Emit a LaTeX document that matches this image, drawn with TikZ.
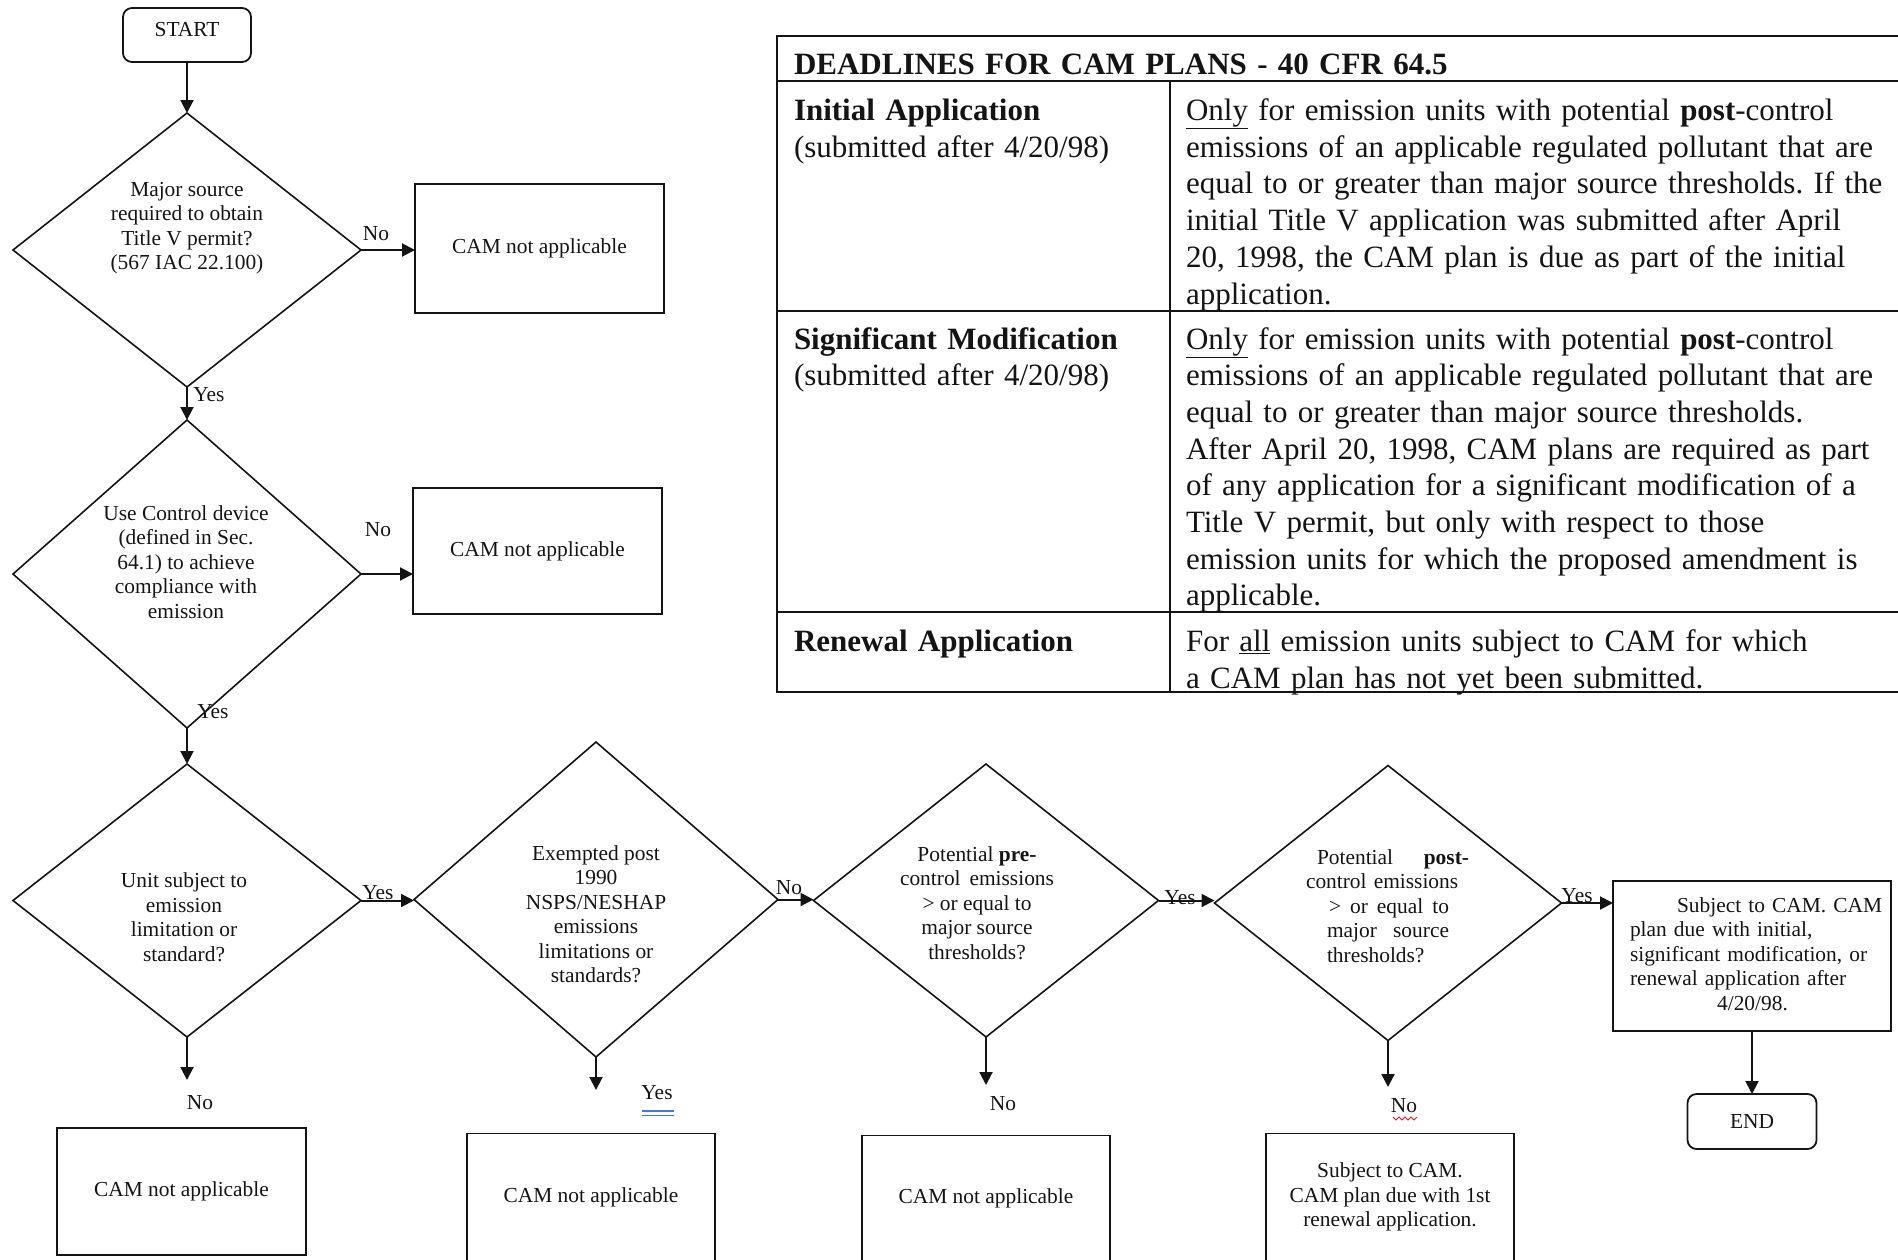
\documentclass[tikz,border=0pt]{standalone}
\usepackage{fontspec}
\setmainfont{Liberation Serif}
\usetikzlibrary{shapes.geometric,arrows.meta}
\newcommand\ffont{\fontsize{21.4pt}{24.5pt}\selectfont}
\newcommand\tfont{\fontsize{31pt}{36.7pt}\selectfont}
\definecolor{inkc}{RGB}{20,20,20}
\definecolor{gblue}{RGB}{66,120,230}
\definecolor{gred}{RGB}{220,30,30}
\frenchspacing
\begin{document}
\begin{tikzpicture}[x=1pt,y=-1pt,
  every node/.style={inner sep=0pt,outer sep=0pt,text=inkc},
  dia/.style={draw=inkc,diamond,line width=1.6pt},
  box/.style={draw=inkc,rectangle,line width=1.8pt,font=\ffont,align=center},
  rbox/.style={box,rounded corners=9pt},
  arr/.style={draw=inkc,line width=2pt,-{Triangle[length=13pt,width=13pt]}},
  lbl/.style={font=\ffont},
  ftxt/.style={font=\ffont,align=center},
  tcell/.style={font=\tfont,align=left,anchor=base west,text width=#1},
  tline/.style={draw=inkc,line width=1.8pt}]
\useasboundingbox (0,0) rectangle (1898,1259);

% ---------- table ----------
\draw[tline] (777,36) -- (1898,36);
\draw[tline] (777,81) -- (1898,81);
\draw[tline] (777,311) -- (1898,311);
\draw[tline] (777,612) -- (1898,612);
\draw[tline] (777,692) -- (1898,692);
\draw[tline] (777,35) -- (777,693);
\draw[tline] (1170,81) -- (1170,692);

\node[tcell=1000pt] (th) at (794,74) {\textbf{DEADLINES FOR CAM PLANS - 40 CFR 64.5}};
\node[tcell=370pt] (t1l) at (794,120.5) {\textbf{Initial Application}\\(submitted after 4/20/98)};
\node[tcell=720pt] (t1r) at (1186,120.5) {\underline{Only} for emission units with potential \textbf{post}-control\\
emissions of an applicable regulated pollutant that are\\
equal to or greater than major source thresholds. If the\\
initial Title V application was submitted after April\\
20, 1998, the CAM plan is due as part of the initial\\
application.};
\node[tcell=370pt] (t2l) at (794,349) {\textbf{Significant Modification}\\(submitted after 4/20/98)};
\node[tcell=720pt] (t2r) at (1186,349) {\underline{Only} for emission units with potential \textbf{post}-control\\
emissions of an applicable regulated pollutant that are\\
equal to or greater than major source thresholds.\\
After April 20, 1998, CAM plans are required as part\\
of any application for a significant modification of a\\
Title V permit, but only with respect to those\\
emission units for which the proposed amendment is\\
applicable.};
\node[tcell=370pt] (t3l) at (794,651.5) {\textbf{Renewal Application}};
\node[tcell=720pt] (t3r) at (1186,651.5) {For \underline{all} emission units subject to CAM for which\\
a CAM plan has not yet been submitted.};

% ---------- flowchart nodes ----------
\node[rbox,minimum width=128pt,minimum height=54pt,text height=14pt,text depth=12pt] (start) at (187,35) {START};

\node[dia,minimum width=348pt,minimum height=274pt] (d1) at (187,250) {};
\node[ftxt] (d1t) at (187,228) {Major source\\required to obtain\\Title V permit?\\(567 IAC 22.100)};
\node[box,minimum width=249pt,minimum height=129pt] (b1) at (539.5,248.5) {CAM not applicable};

\node[dia,minimum width=348pt,minimum height=308pt] (d2) at (187,574) {};
\node[ftxt] (d2t) at (186,562) {Use Control device\\(defined in Sec.\\64.1) to achieve\\compliance with\\emission};
\node[box,minimum width=249pt,minimum height=126pt] (b2) at (537.5,551) {CAM not applicable};

\node[dia,minimum width=348pt,minimum height=273pt] (d3) at (187,900.5) {};
\node[ftxt] (d3t) at (184,917) {Unit subject to\\emission\\limitation or\\standard?};
\coordinate (e3) at (187,1080);
\node[box,minimum width=249pt,minimum height=127pt] (b3) at (181.5,1191.5) {CAM not applicable};

\node[dia,minimum width=364pt,minimum height=315pt] (d4) at (596,899.5) {};
\node[ftxt] (d4t) at (596,914) {Exempted post\\1990\\NSPS/NESHAP\\emissions\\limitations or\\standards?};
\coordinate (e4) at (596,1090);
\node[box,minimum width=248pt,minimum height=127pt] (b4) at (591,1197) {CAM not applicable};

\node[dia,minimum width=345pt,minimum height=273pt] (d5) at (986,900.5) {};
\node[ftxt] (d5t) at (977,903) {Potential \textbf{pre-}\\control\, emissions\\> or equal to\\major source\\thresholds?};
\coordinate (e5) at (986,1085);
\node[box,minimum width=248pt,minimum height=125pt] (b5) at (986,1198) {CAM not applicable};

\node[dia,minimum width=347pt,minimum height=275pt] (d6) at (1388,903) {};
\node[font=\ffont,align=left,anchor=base west,text width=200pt] (d6t) at (1306,864) {\hspace*{11pt}\hbox to 152pt{Potential\hfill\textbf{post-}}\\
control emissions\\
\hspace*{23pt}\hbox to 120pt{>\hfill or\hfill equal\hfill to}\\
\hspace*{21pt}\hbox to 122pt{major\hfill source}\\
\hspace*{21pt}thresholds?};
\coordinate (e6) at (1388,1087);
\node[box,minimum width=248pt,minimum height=127pt] (b6) at (1390,1197) {Subject to CAM.\\CAM plan due with 1st\\renewal application.};

\node[box,minimum width=278pt,minimum height=150pt] (subj) at (1752,956) {};
\node[font=\ffont,align=left,anchor=base west,text width=300pt] (subjt) at (1630,912) {\hspace*{47pt}Subject to CAM. CAM\\
plan due with initial,\\
significant modification, or\\
renewal application after\\
\makebox[245pt]{4/20/98.}};

\node[rbox,minimum width=129pt,minimum height=55pt] (end) at (1752,1121.5) {END};

% ---------- connectors ----------
\draw[arr] (start.south) -- (d1.north);
\draw[arr] (d1.east) -- (d1.east -| b1.west);
\draw[arr] (d1.south) -- (d2.north);
\draw[arr] (d2.east) -- (d2.east -| b2.west);
\draw[arr] (d2.south) -- (d3.north);
\draw[arr] (d3.east) -- (d3.east -| d4.west);
\draw[arr] (d3.south) -- (e3);
\draw[arr] (d4.east) -- (d4.east -| d5.west);
\draw[arr] (d4.south) -- (e4);
\draw[arr] (d5.east) -- (d5.east -| d6.west);
\draw[arr] (d5.south) -- (e5);
\draw[arr] (d6.east) -- (d6.east -| subj.west);
\draw[arr] (d6.south) -- (e6);
\draw[arr] (subj.south) -- (end.north);

% ---------- labels ----------
\node[lbl] (l1) at (376,234) {No};
\node[lbl] (l2) at (209,395) {Yes};
\node[lbl] (l3) at (378,530) {No};
\node[lbl] (l4) at (213,712) {Yes};
\node[lbl] (l5) at (378,893) {Yes};
\node[lbl] (l6) at (200,1103) {No};
\node[lbl] (l7) at (789,888) {No};
\node[lbl] (l8) at (657,1093) {Yes};
\node[lbl] (l9) at (1003,1104) {No};
\node[lbl] (l10) at (1180,898) {Yes};
\node[lbl] (l11) at (1404,1106) {No};
\node[lbl] (l12) at (1577,896) {Yes};

% proofing marks
\draw[gblue,line width=1.4pt] (642,1111) -- (674,1111);
\draw[gblue,line width=1.4pt] (642,1115.5) -- (674,1115.5);
\draw[gred,line width=1pt] (1393,1117) -- (1396,1120) -- (1399,1117) -- (1402,1120) -- (1405,1117) -- (1408,1120) -- (1411,1117) -- (1414,1120) -- (1417,1117);
\end{tikzpicture}
\end{document}
